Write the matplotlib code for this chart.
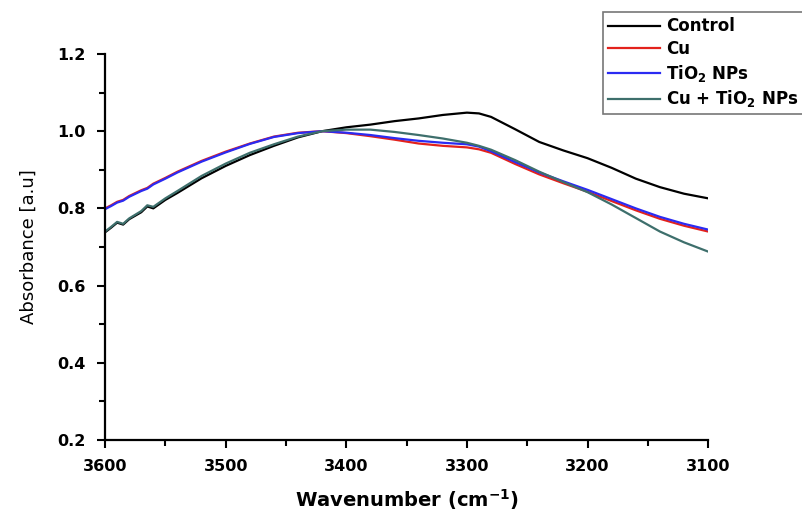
import numpy as np
import matplotlib.pyplot as plt
from matplotlib.ticker import MultipleLocator

plt.rcParams['font.family'] = 'DejaVu Sans'
plt.rcParams['mathtext.default'] = 'bf'

# FTIR absorbance in the O-H / N-H stretching region
wn_early = [3600, 3595, 3590, 3585, 3580, 3570, 3565, 3560, 3550, 3540,
            3520, 3500, 3480, 3460, 3440, 3420]
wn_late = [3400, 3380, 3360, 3340, 3320, 3300, 3290, 3280, 3260, 3240,
           3220, 3200, 3180, 3160, 3140, 3120, 3100]
wavenumber = wn_early + wn_late

control = [0.738, 0.750, 0.763, 0.758, 0.772, 0.790, 0.805, 0.800, 0.822, 0.840,
           0.878, 0.910, 0.938, 0.962, 0.984, 1.000,
           1.010, 1.017, 1.026, 1.033, 1.042, 1.048, 1.046, 1.037, 1.005, 0.972,
           0.950, 0.930, 0.905, 0.877, 0.855, 0.838, 0.826]
cu = [0.800, 0.808, 0.817, 0.822, 0.832, 0.847, 0.853, 0.864, 0.879, 0.895,
      0.923, 0.947, 0.968, 0.986, 0.996, 1.000,
      0.995, 0.987, 0.978, 0.968, 0.962, 0.958, 0.953, 0.944, 0.915, 0.888,
      0.865, 0.843, 0.819, 0.795, 0.773, 0.755, 0.740]
tio2 = [0.798, 0.806, 0.815, 0.820, 0.830, 0.845, 0.851, 0.862, 0.877, 0.893,
        0.921, 0.945, 0.967, 0.985, 0.995, 1.000,
        0.996, 0.990, 0.982, 0.975, 0.970, 0.966, 0.960, 0.948, 0.920, 0.893,
        0.870, 0.848, 0.824, 0.800, 0.778, 0.760, 0.745]
cu_tio2 = [0.740, 0.752, 0.765, 0.760, 0.774, 0.793, 0.808, 0.804, 0.826, 0.845,
           0.884, 0.916, 0.944, 0.966, 0.986, 1.000,
           1.004, 1.004, 0.998, 0.990, 0.981, 0.970, 0.962, 0.952, 0.925, 0.895,
           0.868, 0.842, 0.810, 0.775, 0.740, 0.712, 0.688]

series = [
    (control, 'Control', 'black'),
    (cu, 'Cu', '#e3221c'),
    (tio2, r'TiO$_2$ NPs', '#2b2bf2'),
    (cu_tio2, r'Cu + TiO$_2$ NPs', '#3e6f6c'),
]

fig = plt.figure(figsize=(8.02, 5.14), dpi=100)
ax = fig.add_axes([0.131, 0.144, 0.752, 0.751])

for y, lab, col in series:
    ax.plot(wavenumber, y, color=col, lw=1.6, label=lab)

ax.set_xlim(3600, 3100)
ax.set_ylim(0.2, 1.2)
ax.xaxis.set_major_locator(MultipleLocator(100))
ax.xaxis.set_minor_locator(MultipleLocator(50))
ax.yaxis.set_major_locator(MultipleLocator(0.2))
ax.yaxis.set_minor_locator(MultipleLocator(0.1))
ax.yaxis.set_major_formatter(plt.FormatStrFormatter('%.1f'))

for s in ('top', 'right'):
    ax.spines[s].set_visible(False)
for s in ('left', 'bottom'):
    ax.spines[s].set_linewidth(1.6)
ax.tick_params(which='major', direction='out', length=6, width=1.5,
               labelsize=11.5, pad=8)
ax.tick_params(which='minor', direction='out', length=4, width=1.5)
for t in ax.get_xticklabels() + ax.get_yticklabels():
    t.set_fontweight('bold')

ax.set_xlabel(r'Wavenumber (cm$^{-1}$)', fontsize=14, fontweight='bold',
              labelpad=9)
ax.set_ylabel('Absorbance [a.u]', fontsize=13, labelpad=14)

# legend runs up to the right edge of the canvas
leg = fig.legend(loc='upper left', bbox_to_anchor=(0.752, 0.976),
                 frameon=True, fancybox=False, edgecolor='#555555',
                 fontsize=12, handlelength=3.1, handletextpad=0.4,
                 labelspacing=0.28, borderpad=0.3, borderaxespad=0)
leg.get_frame().set_linewidth(1.2)
for t in leg.get_texts():
    t.set_fontweight('bold')

fig.savefig('out.png', dpi=100)
